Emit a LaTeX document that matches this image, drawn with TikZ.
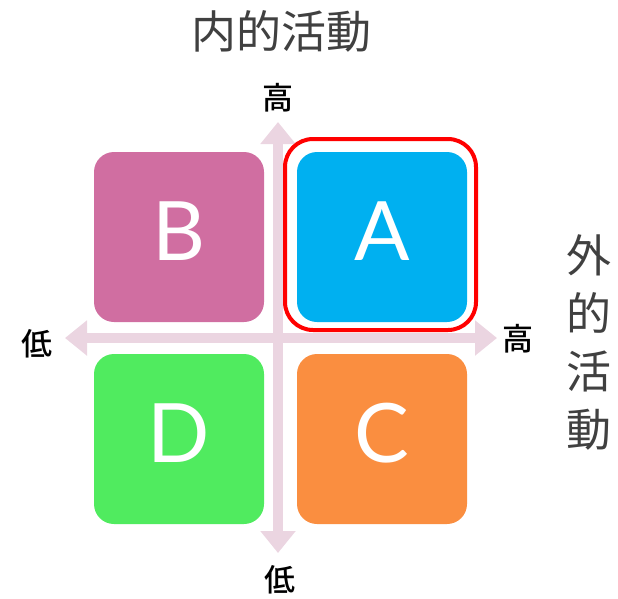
\documentclass[tikz,border=0pt]{standalone}
\usepackage{fontspec}
\setmainfont{Liberation Sans}
\newfontfamily\cjk{Noto Sans CJK JP}
\newfontfamily\cjkmed{Noto Sans CJK JP Medium}
\newfontfamily\lettersans{Lato}
\usetikzlibrary{arrows.meta}
\definecolor{axiscol}{HTML}{EBD5E1}
\definecolor{colA}{HTML}{00B0F0}
\definecolor{colB}{HTML}{D06EA1}
\definecolor{colC}{HTML}{FA8E40}
\definecolor{colD}{HTML}{50EB5F}
\definecolor{titlegray}{HTML}{404040}
\tikzset{
  quadbox/.style={minimum width=170pt, minimum height=170pt, rounded corners=20pt, inner sep=0pt},
  letter/.style={text=white, font=\lettersans\fontsize{82}{82}\selectfont, inner sep=0pt},
  axisline/.style={draw=axiscol, line width=10pt, {Triangle[length=22pt,width=34pt]}-{Triangle[length=22pt,width=34pt]}},
  axislabel/.style={font=\cjkmed\fontsize{31}{31}\selectfont, text=black, inner sep=0pt},
  titletext/.style={font=\cjk\fontsize{45}{58}\selectfont, text=titlegray, inner sep=0pt, align=center},
  highlight/.style={draw=red, line width=4pt, rounded corners=28pt}
}
\begin{document}
\begin{tikzpicture}[x=1pt,y=-1pt]
\useasboundingbox (0,0) rectangle (618,598);
% axes
\coordinate (ltip) at (65,338);
\coordinate (rtip) at (497,338);
\coordinate (ttip) at (278,122);
\coordinate (btip) at (278,553);
\draw[axisline] (ltip) -- (rtip);
\draw[axisline] (ttip) -- (btip);
% quadrants
\node[quadbox, fill=colA] (A) at (382,237) {};
\node[quadbox, fill=colB] (B) at (179,237) {};
\node[quadbox, fill=colC] (C) at (382,439) {};
\node[quadbox, fill=colD] (D) at (179,439) {};
\node[letter] (tA) at (382,231) {A};
\node[letter] (tB) at (179,231) {B};
\node[letter] (tC) at (382,433) {C};
\node[letter] (tD) at (179,433) {D};
% highlight
\draw[highlight] (285,139) rectangle (476,330);
% axis labels
\node[axislabel] (hi1) at (278,98) {高};
\node[axislabel] (lo1) at (37,344) {低};
\node[axislabel] (hi2) at (518,339) {高};
\node[axislabel] (lo2) at (280,580) {低};
% titles
\node[titletext] (inner) at (281,31) {内的活動};
\node[titletext] (outer) at (589,342) {外\\的\\活\\動};
\end{tikzpicture}
\end{document}
